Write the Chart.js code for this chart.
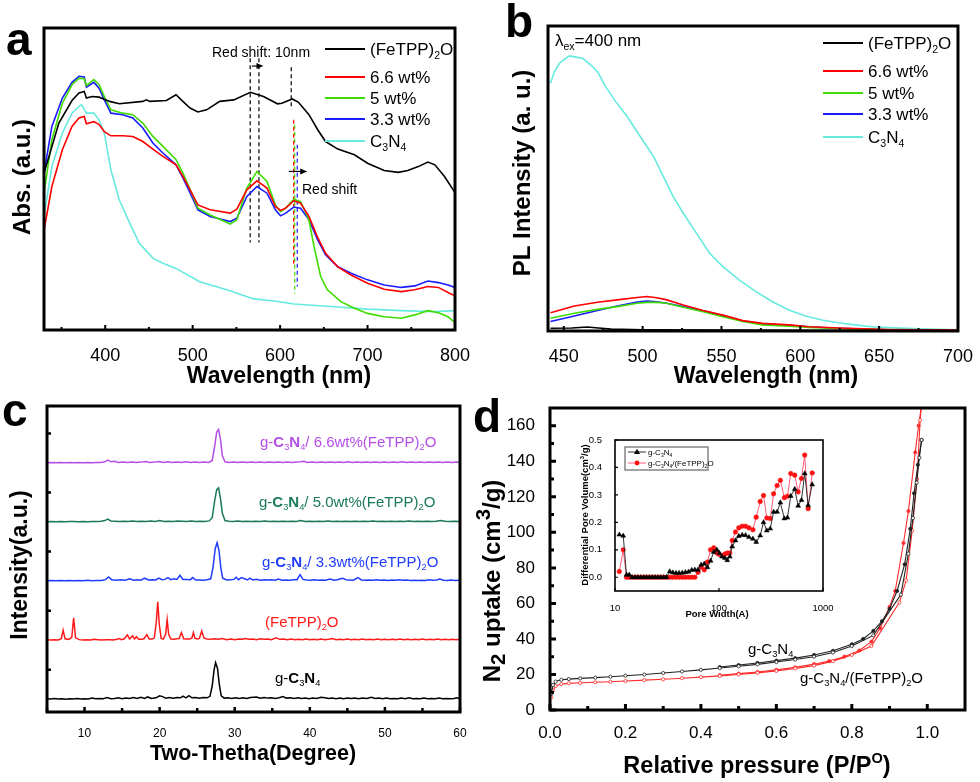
<!DOCTYPE html>
<html>
<head>
<meta charset="utf-8">
<title>Fig. abcd</title>
<script src="https://cdn.jsdelivr.net/npm/chart.js"></script>
<style>
  body { margin: 0; background: #fff; }
  #wrap { position: relative; width: 980px; height: 782px; }
  #wrap canvas { position: absolute; left: 0; top: 0; }
</style>
</head>
<body>
<div id="wrap">
  <canvas id="chA" width="980" height="782"></canvas>
  <canvas id="chB" width="980" height="782"></canvas>
  <canvas id="chC" width="980" height="782"></canvas>
  <canvas id="chD" width="980" height="782"></canvas>
  <canvas id="chIn" width="980" height="782"></canvas>
</div>
<script>
const FONT = '"Liberation Sans", Arial, sans-serif';
Chart.defaults.font.family = FONT;
Chart.defaults.color = '#000';

// ---- panel a: UV-vis absorbance (arbitrary units, frame = 0..100)
const absNames = ['(FeTPP)_2O', '6.6 wt%', '5 wt%', '3.3 wt%', 'C_3N_4'];
const absColors = ['#000000', '#ff0000', '#3fdc00', '#1a1aff', '#66eadf'];
const absFeTPP = [[330,51.9],[347,68.5],[362,76],[370,78.5],[376,79],[378.5,76.8],[385,77.3],[393,77.1],[405,75.7],[416,74.9],[443,75.7],[447,76.2],[451,75.7],[470,76],[481,77.9],[487,76.2],[497,73.5],[506,72.2],[516,72.9],[531,75.7],[547,76.2],[566,78.7],[581,77.3],[597,74.9],[602,75.1],[614,76.5],[621,75.4],[633,71.3],[643,66.3],[652,62.4],[666,59.9],[685,58],[700,55.2],[719,52.8],[735,52.2],[746,52.8],[758,54.1],[769,55.6],[777,54.7],[788,50.8],[800,45.5]];
const abs66 = [[330,33],[339,47.5],[351,59.7],[362,67.4],[370,70.2],[376,70.7],[378.5,68.3],[387,69],[393,68],[399,65.7],[406.5,64.3],[420,64.3],[431.5,64.1],[443,62.4],[454.5,59.9],[466,57.5],[481,54.7],[489,50.8],[499,45.3],[506,41.4],[520,39.8],[543,38.7],[550.5,40],[562,46.4],[573.5,49.4],[585,47],[594.6,40.9],[600.4,39.6],[606,40.3],[615.7,42.8],[623.4,42],[633,37.6],[642.6,30.9],[652,25.4],[665.6,21],[681,18.2],[700,15.5],[719,13.5],[738.6,12.7],[754,13.3],[769,14.4],[781,14.1],[792,12.4],[800,11.3]];
const abs50 = [[330,45.3],[339,63],[351,75.1],[362,81.2],[370,83.4],[376,83.2],[378.5,80.9],[387,82.9],[393,81.2],[399,77.3],[406.5,72.9],[420,71.8],[431.5,71.3],[443,68.5],[454.5,64.1],[466,60.8],[481,56.4],[489,51.9],[499,45.3],[506,40.3],[520,38.1],[543,35.1],[550.5,36.5],[562,47],[573.5,52.5],[585,49.2],[594.6,41.4],[600.4,39.2],[606,40.3],[615.7,43.3],[623.4,42.5],[633,36.5],[638.8,27.6],[646.4,17.7],[654,13.3],[669.5,9.4],[685,7.2],[700,5.5],[719,4.4],[738.6,3.9],[754,5],[769,6.4],[781,5.7],[792,4.4],[800,2.4]];
const abs33 = [[330,51.9],[339,67.4],[351,76.8],[362,82],[370,84],[376,83.8],[378.5,80.4],[387,82],[393,80.1],[399,76.2],[406.5,71.8],[420,71.3],[431.5,70.2],[443,66.9],[454.5,61.9],[466,58.6],[481,54.7],[489,50.3],[499,44.2],[506,39.8],[520,37.6],[543,35.9],[550.5,37],[562,44.2],[573.5,47.5],[585,45.3],[594.6,39.8],[600.4,37.8],[606,38.6],[615.7,40.7],[623.4,40.3],[633,36.5],[642.6,30.1],[652,24.9],[665.6,21],[681,18.8],[700,16.6],[719,14.9],[738.6,14.1],[754,14.6],[769,16.2],[781,15.7],[792,14.9],[800,14.1]];
const absC3N4 = [[330,37.6],[339,54.1],[351,65.2],[362,71.8],[370,74],[373,74.6],[378.5,71.8],[387,71.8],[393,69.6],[399,65.2],[406.5,53],[416,43.1],[428,35.4],[439,28.7],[454.5,23.8],[466,22.1],[481,20.4],[508,16],[539,13.3],[570,10.3],[593,9.6],[616,8.6],[662,7.7],[700,6.9],[739,6.4],[777,6.1],[800,6.4]];
const absSeries = [absFeTPP, abs66, abs50, abs33, absC3N4];
// dashed guide lines: [wavelength, from, to], colours
const absMarks = [[565.8,90,29],[575.8,90,29],[612.7,87,73],[615.5,69.6,21],[616.7,68,12],[619.6,61.3,14.4]];
const absMarkColors = ['#000','#000','#000','#ff0000','#3fdc00','#1a1aff'];
const absArrows = [[567.8,581,87.4],[610,631,52.5]];
const absTicks = [400,500,600,700,800];
const absMinor = [350,450,550,650,750];

// ---- panel b: PL spectra
const plNames = absNames;
const plColors = absColors;
const plFeTPP = [[441.6,0.9],[455,1.0],[465,1.3],[472,1.0],[480,0.6],[500,0.4],[550,0.3],[600,0.2],[700,0.1]];
const pl66 = [[441.6,6],[456.7,8.2],[471.4,9.4],[483.9,10.2],[496.5,11],[502.8,11.3],[509,10.9],[515.3,10.2],[525.8,8.5],[538.4,6.7],[550.9,5.2],[563.5,3.4],[576,2.5],[592.8,2],[605.4,1.4],[624.2,1],[655.6,0.5],[700,0.3]];
const pl50 = [[441.6,4.2],[456.7,5.8],[471.4,7.1],[483.9,8],[496.5,9.1],[502.8,9.4],[509,9.4],[515.3,9.1],[525.8,7.8],[538.4,6.3],[550.9,4.7],[563.5,3.1],[576,2],[592.8,1.6],[605.4,1.2],[624.2,0.8],[655.6,0.4],[700,0.2]];
const pl33 = [[441.6,3.1],[456.7,4.9],[471.4,6.7],[483.9,8.2],[496.5,9.5],[502.8,9.8],[509,9.6],[515.3,9.1],[525.8,8],[538.4,6.6],[550.9,5],[563.5,3.3],[576,2.3],[592.8,1.9],[605.4,1.4],[624.2,0.9],[655.6,0.4],[700,0.2]];
const plC3N4 = [[441.6,81.2],[444,85],[447.3,87.8],[450.4,89.1],[453.6,90.2],[457.7,89.8],[461.9,89.4],[467.2,87.2],[471.4,85],[476.6,80.1],[482.9,75.2],[490.2,70.3],[498.6,63.7],[507,57.2],[513.2,50.6],[519.5,44],[525.8,38.6],[534.2,32],[542.5,25.5],[550.9,21.1],[561.4,16.7],[571.9,12.9],[582.3,9.6],[592.8,6.9],[603.3,4.9],[613.7,3.6],[624.2,2.7],[634.7,2],[645.1,1.4],[655.6,1.1],[676.5,0.7],[700,0.4]];
const plSeries = [plFeTPP, pl66, pl50, pl33, plC3N4];
const plTicks = [450,500,550,600,650,700];
const plMinor = [475,525,575,625,675];

// ---- panel c: XRD patterns (stacked)
const xrdNames = ['g-*C*_3*N*_4', '(FeTPP)_2O', 'g-*C*_3*N*_4/ 3.3wt%(FeTPP)_2O', 'g-*C*_3*N*_4/ 5.0wt%(FeTPP)_2O', 'g-*C*_3*N*_4/ 6.6wt%(FeTPP)_2O'];
const xrdColors = ['#000000', '#ff1a1a', '#1f3cff', '#1b7a55', '#b44ee6'];
const xrdOffsets = [0, 2, 4, 6, 8];
const xrdC3N4 = [[5,0.02],[5.5,0.01],[6,0.03],[6.5,0.01],[7,0.02],[7.5,0.0],[8,0.02],[8.5,0.01],[9,0.03],[9.5,0.01],[10,0.02],[10.5,0.01],[11,0.04],[11.5,0.02],[12,0.03],[12.5,0.02],[13,0.06],[13.5,0.02],[14,0.03],[14.5,0.05],[15,0.02],[15.5,0.04],[16,0.03],[16.5,0.06],[17,0.03],[17.5,0.07],[18,0.03],[18.4,0.08],[18.9,0.03],[19.5,0.05],[20,0.12],[20.4,0.09],[20.8,0.04],[21.3,0.06],[21.8,0.04],[22.3,0.06],[22.8,0.05],[23.1,0.11],[23.5,0.05],[23.9,0.12],[24.3,0.05],[24.8,0.06],[25.3,0.04],[25.8,0.06],[26.3,0.05],[26.7,0.1],[27.0,0.45],[27.25,1.0],[27.45,1.24],[27.7,1.05],[27.95,0.5],[28.2,0.12],[28.6,0.04],[29.1,0.05],[29.6,0.03],[30.1,0.05],[30.6,0.03],[31.1,0.05],[31.6,0.03],[32.1,0.06],[32.9,0.08],[33.4,0.04],[33.9,0.06],[34.4,0.04],[34.9,0.05],[35.4,0.03],[35.9,0.05],[36.4,0.09],[36.9,0.04],[37.4,0.05],[37.9,0.03],[38.4,0.05],[38.9,0.03],[39.4,0.04],[39.9,0.02],[40.4,0.04],[40.9,0.03],[41.5,0.07],[42,0.05],[42.5,0.03],[43,0.04],[43.5,0.02],[44,0.04],[44.5,0.02],[45,0.04],[45.5,0.03],[46,0.04],[46.5,0.02],[47,0.04],[47.6,0.03],[48.2,0.07],[48.7,0.03],[49.2,0.04],[49.7,0.02],[50.2,0.04],[50.7,0.02],[51.2,0.03],[51.7,0.02],[52.2,0.04],[52.7,0.02],[53.2,0.05],[53.7,0.02],[54.2,0.03],[54.7,0.02],[55.2,0.04],[55.7,0.02],[56.2,0.03],[56.7,0.02],[57.2,0.04],[57.7,0.02],[58.2,0.03],[58.7,0.02],[59.2,0.03],[59.6,0.05],[60,0.02]];
const xrdFeTPP = [[5,0.02],[5.5,0.01],[6,0.02],[6.5,0.01],[6.9,0.05],[7.15,0.34],[7.4,0.05],[7.9,0.03],[8.3,0.1],[8.55,0.76],[8.8,0.08],[9.3,0.02],[9.8,0.01],[10.3,0.02],[10.8,0.01],[11.3,0.03],[11.8,0.02],[12.3,0.01],[12.8,0.02],[13.3,0.02],[13.8,0.01],[14.3,0.03],[14.6,0.06],[14.9,0.02],[15.3,0.05],[15.7,0.18],[16.0,0.04],[16.4,0.15],[16.65,0.04],[16.9,0.12],[17.2,0.03],[17.6,0.03],[17.9,0.05],[18.3,0.19],[18.6,0.04],[19.0,0.04],[19.3,0.08],[19.55,0.6],[19.75,1.3],[19.95,0.55],[20.2,0.06],[20.5,0.04],[20.8,0.2],[21.0,0.7],[21.2,0.2],[21.5,0.04],[21.9,0.03],[22.3,0.05],[22.6,0.06],[22.9,0.26],[23.2,0.05],[23.6,0.04],[24.0,0.04],[24.3,0.08],[24.5,0.26],[24.7,0.07],[25.0,0.04],[25.3,0.06],[25.6,0.31],[25.9,0.08],[26.3,0.04],[26.8,0.03],[27.3,0.05],[27.8,0.03],[28.4,0.06],[28.9,0.02],[29.5,0.04],[30,0.02],[30.5,0.04],[31,0.03],[31.4,0.06],[31.9,0.03],[32.4,0.04],[32.9,0.02],[33.4,0.05],[33.9,0.03],[34.4,0.04],[34.9,0.02],[35.5,0.08],[36,0.03],[36.5,0.04],[37,0.02],[37.5,0.04],[38,0.02],[38.5,0.03],[39,0.02],[39.5,0.04],[40,0.02],[40.5,0.03],[41,0.02],[41.5,0.04],[42,0.02],[42.5,0.03],[43,0.06],[43.5,0.02],[44,0.03],[44.5,0.02],[45,0.04],[45.5,0.02],[46,0.03],[46.5,0.02],[47,0.04],[47.5,0.02],[48,0.03],[48.5,0.02],[49,0.04],[49.5,0.02],[50,0.03],[50.5,0.02],[51,0.03],[51.5,0.02],[52,0.04],[52.5,0.02],[53,0.03],[53.5,0.02],[54,0.03],[54.5,0.02],[55,0.04],[55.5,0.02],[56,0.03],[56.5,0.02],[57,0.04],[57.5,0.02],[58,0.03],[58.5,0.02],[59,0.03],[59.5,0.02],[60,0.03]];
const xrd33 = [[5,0.01],[5.6,0.02],[6.2,0.01],[6.8,0.02],[7.4,0.01],[8,0.02],[8.6,0.01],[9.2,0.02],[9.8,0.01],[10.4,0.03],[11,0.01],[11.6,0.02],[12.2,0.02],[12.8,0.05],[13.2,0.14],[13.6,0.05],[14.2,0.03],[14.8,0.05],[15.4,0.03],[16.0,0.08],[16.5,0.03],[17.0,0.05],[17.5,0.03],[18.0,0.1],[18.5,0.04],[19.0,0.05],[19.5,0.04],[19.9,0.1],[20.3,0.05],[20.7,0.06],[21.1,0.12],[21.5,0.05],[21.9,0.08],[22.3,0.06],[22.7,0.2],[23.1,0.06],[23.6,0.06],[24.1,0.05],[24.4,0.12],[24.8,0.04],[25.3,0.04],[25.8,0.03],[26.3,0.05],[26.8,0.08],[27.1,0.45],[27.4,1.1],[27.65,1.3],[27.9,1.05],[28.15,0.45],[28.4,0.1],[28.9,0.04],[29.4,0.05],[29.9,0.06],[30.2,0.13],[30.5,0.05],[30.9,0.12],[31.3,0.08],[31.7,0.04],[32.0,0.1],[32.4,0.04],[32.9,0.06],[33.4,0.03],[33.9,0.05],[34.4,0.04],[34.9,0.05],[35.4,0.03],[35.8,0.07],[36.3,0.03],[36.8,0.04],[37.3,0.03],[37.8,0.05],[38.3,0.05],[38.7,0.22],[39.1,0.06],[39.6,0.04],[40.1,0.03],[40.6,0.05],[41.1,0.03],[41.6,0.04],[42.1,0.03],[42.7,0.07],[43.2,0.03],[43.7,0.05],[44.1,0.08],[44.4,0.1],[44.8,0.05],[45.3,0.04],[45.8,0.03],[46.4,0.12],[46.9,0.04],[47.4,0.03],[47.9,0.04],[48.4,0.03],[48.9,0.05],[49.4,0.03],[49.9,0.04],[50.4,0.02],[50.9,0.04],[51.4,0.03],[51.9,0.05],[52.4,0.03],[52.9,0.04],[53.4,0.02],[53.9,0.03],[54.4,0.02],[54.9,0.03],[55.4,0.02],[55.9,0.05],[56.4,0.03],[56.9,0.04],[57.3,0.07],[57.8,0.03],[58.3,0.02],[58.8,0.04],[59.3,0.02],[60,0.03]];
const xrd50 = [[5,0.01],[5.6,0.02],[6.2,0.01],[6.8,0.02],[7.4,0.01],[8,0.02],[8.6,0.02],[9.2,0.01],[9.8,0.02],[10.4,0.01],[11,0.02],[11.6,0.02],[12.2,0.03],[12.7,0.05],[13.1,0.1],[13.5,0.04],[14,0.03],[14.6,0.02],[15.2,0.03],[15.8,0.02],[16.4,0.04],[17,0.02],[17.6,0.03],[18.2,0.02],[18.8,0.04],[19.4,0.02],[20,0.05],[20.6,0.02],[21.2,0.03],[21.8,0.02],[22.4,0.04],[23,0.03],[23.6,0.02],[24.2,0.04],[24.8,0.02],[25.4,0.03],[26,0.02],[26.6,0.04],[27.0,0.15],[27.35,0.75],[27.6,1.1],[27.85,1.16],[28.1,0.8],[28.35,0.3],[28.7,0.05],[29.2,0.03],[29.8,0.02],[30.4,0.04],[31,0.02],[31.6,0.03],[32.2,0.02],[32.8,0.03],[33.4,0.02],[34,0.04],[34.6,0.02],[35.2,0.03],[35.8,0.02],[36.4,0.03],[37,0.02],[37.6,0.03],[38.2,0.02],[38.8,0.05],[39.4,0.02],[40,0.03],[40.6,0.02],[41.2,0.03],[41.8,0.02],[42.4,0.04],[43,0.02],[43.6,0.03],[44.2,0.02],[44.8,0.03],[45.4,0.02],[46,0.03],[46.6,0.02],[47.2,0.03],[47.8,0.02],[48.4,0.04],[49,0.02],[49.6,0.03],[50.2,0.02],[50.8,0.03],[51.4,0.02],[52,0.03],[52.6,0.02],[53.2,0.04],[53.8,0.02],[54.4,0.03],[55,0.02],[55.6,0.03],[56.2,0.02],[56.8,0.03],[57.4,0.05],[58,0.03],[58.6,0.02],[59.2,0.03],[60,0.02]];
const xrd66 = [[5,0.01],[5.6,0.02],[6.2,0.01],[6.8,0.02],[7.4,0.01],[8,0.02],[8.6,0.01],[9.2,0.02],[9.8,0.01],[10.4,0.02],[11,0.01],[11.6,0.02],[12.2,0.02],[12.7,0.04],[13.1,0.1],[13.5,0.04],[14.0,0.06],[14.5,0.02],[15.1,0.03],[15.7,0.02],[16.3,0.03],[16.9,0.02],[17.5,0.03],[18.1,0.05],[18.7,0.02],[19.3,0.03],[19.9,0.05],[20.5,0.02],[21.1,0.04],[21.7,0.02],[22.3,0.03],[22.9,0.02],[23.5,0.04],[24.1,0.02],[24.7,0.03],[25.3,0.02],[25.9,0.03],[26.5,0.02],[27.0,0.08],[27.35,0.6],[27.6,1.05],[27.85,1.14],[28.1,0.8],[28.35,0.25],[28.7,0.04],[29.2,0.02],[29.8,0.03],[30.4,0.02],[31,0.03],[31.6,0.02],[32.2,0.03],[32.8,0.02],[33.4,0.03],[34,0.02],[34.6,0.03],[35.2,0.02],[35.8,0.03],[36.4,0.02],[37,0.03],[37.6,0.02],[38.2,0.03],[38.8,0.04],[39.2,0.06],[39.7,0.02],[40.3,0.03],[40.9,0.02],[41.5,0.03],[42.1,0.02],[42.7,0.03],[43.3,0.02],[43.9,0.03],[44.5,0.02],[45.1,0.04],[45.7,0.02],[46.3,0.03],[46.9,0.02],[47.5,0.03],[48.1,0.02],[48.7,0.03],[49.3,0.02],[49.9,0.03],[50.5,0.02],[51.1,0.03],[51.7,0.02],[52.3,0.04],[52.9,0.02],[53.5,0.03],[54.1,0.02],[54.7,0.03],[55.3,0.02],[55.9,0.03],[56.5,0.02],[57.1,0.03],[57.7,0.02],[58.3,0.03],[58.9,0.02],[59.5,0.03],[60,0.02]];
const xrdSeries = [xrdC3N4, xrdFeTPP, xrd33, xrd50, xrd66];
const xrdTicks = [10,20,30,40,50,60];
const xrdMinor = [5,15,25,35,45,55];
const xrdYTicks = [1,3,5,7,9];

// ---- panel d: N2 isotherms (adsorption / desorption)
const isoC3N4Ads = [[0.003,9],[0.008,14],[0.015,16],[0.03,17],[0.05,17.4],[0.08,17.8],[0.12,18.2],[0.16,18.7],[0.2,19.3],[0.25,20],[0.3,20.8],[0.35,21.7],[0.4,22.6],[0.45,23.6],[0.5,24.6],[0.55,25.7],[0.6,27],[0.65,28.4],[0.7,30],[0.75,32.4],[0.8,36],[0.857,42],[0.93,65],[0.95,88],[0.962,108],[0.972,128],[0.979,142],[0.985,152]];
const isoC3N4Des = [[0.985,152],[0.975,138],[0.965,122],[0.955,102],[0.94,82],[0.92,67],[0.9,57],[0.88,50],[0.857,44.5],[0.83,40],[0.8,37],[0.75,33.3],[0.7,31],[0.65,29.2],[0.6,27.8],[0.55,26.5],[0.5,25.3],[0.45,24.2]];
const isoFeAds = [[0.003,7],[0.008,11],[0.015,13.5],[0.03,14.6],[0.05,15],[0.08,15.3],[0.12,15.6],[0.16,15.9],[0.2,16.3],[0.25,16.8],[0.3,17.3],[0.35,17.9],[0.4,18.5],[0.45,19.2],[0.5,20],[0.55,20.9],[0.6,22],[0.65,23.4],[0.7,25],[0.75,27.5],[0.8,31],[0.852,36],[0.926,60.5],[0.944,73],[0.96,101],[0.973,130],[0.981,163],[0.985,172]];
const isoFeDes = [[0.985,172],[0.977,160],[0.968,145],[0.95,112],[0.937,94],[0.915,67],[0.9,58],[0.875,46],[0.852,38.5],[0.82,33.5],[0.78,30],[0.74,27.5],[0.7,25.8],[0.65,24],[0.6,22.6],[0.55,21.4],[0.5,20.5],[0.45,19.6]];
const isoXTicks = [0,0.2,0.4,0.6,0.8,1.0];
const isoXMinor = [0.1,0.3,0.5,0.7,0.9];
const isoYTicks = [0,20,40,60,80,100,120,140,160];
const isoYMinor = [10,30,50,70,90,110,130,150];

// ---- inset: pore size distribution
const poreWidth = [11.0,12.0,12.9,13.7,14.6,15.6,16.6,17.7,18.9,20.1,21.4,22.8,24.3,25.9,27.6,29.4,31.3,33.6,36.0,38.6,41.4,44.4,47.6,51.0,54.7,58.6,62.8,67.3,72.2,77.4,83.0,89.0,95.4,101,107,114,120,127,134,144,155,167,180,194,212,228,249,268,288,311,335,362,389,425,455,490,535,577,621,667,720,787];
const poreC3N4 = [0.155,0.151,0.009,0.009,0,0,0,0,0,0,0,0,0,0,0,0,0,0.021,0.017,0.015,0.015,0.016,0.018,0.02,0.026,0.027,0.027,0.045,0.049,0.036,0.06,0.092,0.1,0.088,0.075,0.07,0.062,0.075,0.112,0.134,0.15,0.154,0.153,0.146,0.14,0.128,0.152,0.2,0.17,0.177,0.238,0.238,0.272,0.214,0.217,0.296,0.321,0.26,0.281,0.378,0.262,0.338];
const poreFe = [0.021,0.1,0,0,0,0,0,0,0,0,0,0,0,0,0,0,0,0,0,0,0,0,0,0,0,0,0.018,0.037,0.027,0.055,0.1,0.107,0.088,0.083,0.079,0.085,0.088,0.088,0.134,0.165,0.18,0.186,0.186,0.18,0.173,0.219,0.276,0.298,0.216,0.214,0.304,0.334,0.353,0.29,0.295,0.378,0.372,0.311,0.36,0.445,0.25,0.38];
const poreYTicks = [0,0.1,0.2,0.3,0.4,0.5];
const poreXTicks = [10,100,1000];

// ---------- helpers
const toXY = arr => arr.map(p => ({ x: p[0], y: p[1] }));

function parseRich(s) {
  const out = []; let bold = false, i = 0;
  while (i < s.length) {
    const c = s[i];
    if (c === '*') { bold = !bold; i++; continue; }
    if (c === '_' || c === '^') {
      let t;
      if (s[i + 1] === '{') { const j = s.indexOf('}', i); t = s.slice(i + 2, j); i = j + 1; }
      else { t = s[i + 1]; i += 2; }
      out.push({ t, k: c === '_' ? 'sub' : 'sup', bold });
      continue;
    }
    let j = i;
    while (j < s.length && '*_^'.indexOf(s[j]) < 0) j++;
    out.push({ t: s.slice(i, j), k: '', bold });
    i = j;
  }
  return out;
}

function drawRich(ctx, s, x, y, o) {
  const size = o.size, parts = parseRich(s);
  const subScale = o.subScale || 0.62;
  const font = p => ((p.bold || o.bold) ? 'bold ' : '') + (p.k ? size * subScale : size) + 'px ' + FONT;
  ctx.save();
  ctx.translate(x, y);
  if (o.rot) ctx.rotate(o.rot);
  ctx.fillStyle = o.color || '#000';
  ctx.textBaseline = 'alphabetic';
  ctx.textAlign = 'left';
  let w = 0;
  parts.forEach(p => { ctx.font = font(p); p.w = ctx.measureText(p.t).width; w += p.w; });
  let cx = o.align === 'center' ? -w / 2 : (o.align === 'right' ? -w : 0);
  parts.forEach(p => {
    ctx.font = font(p);
    ctx.fillText(p.t, cx, p.k === 'sub' ? size * 0.22 : (p.k === 'sup' ? -size * 0.42 : 0));
    cx += p.w;
  });
  ctx.restore();
}

function frame(chart, w) {
  const { ctx, chartArea: a } = chart;
  ctx.save();
  ctx.strokeStyle = '#000';
  ctx.lineWidth = w || 3;
  ctx.strokeRect(a.left, a.top, a.right - a.left, a.bottom - a.top);
  ctx.restore();
}

function tickMarks(chart, axis, vals, len, w) {
  const s = chart.scales[axis], a = chart.chartArea, ctx = chart.ctx;
  ctx.save();
  ctx.strokeStyle = '#000';
  ctx.lineWidth = w;
  ctx.beginPath();
  vals.forEach(v => {
    const p = s.getPixelForValue(v);
    if (axis === 'x') { ctx.moveTo(p, a.bottom); ctx.lineTo(p, a.bottom - len); }
    else { ctx.moveTo(a.left, p); ctx.lineTo(a.left + len, p); }
  });
  ctx.stroke();
  ctx.restore();
}

// legend rows, clipped to the plot frame like the original
function legendRows(chart, names, colors, x0, x1, rows, size) {
  const { ctx, chartArea: a } = chart;
  ctx.save();
  ctx.beginPath();
  ctx.rect(a.left, a.top, a.right - a.left, a.bottom - a.top);
  ctx.clip();
  names.forEach((n, i) => {
    ctx.save();
    ctx.strokeStyle = colors[i];
    ctx.lineWidth = 2;
    ctx.beginPath(); ctx.moveTo(x0, rows[i]); ctx.lineTo(x1, rows[i]); ctx.stroke();
    ctx.restore();
    drawRich(ctx, n, x1 + 5, rows[i] + size * 0.36, { size });
  });
  ctx.restore();
}

function arrow(ctx, x0, x1, y) {
  ctx.save();
  ctx.strokeStyle = '#000'; ctx.fillStyle = '#000'; ctx.lineWidth = 1.2;
  ctx.beginPath(); ctx.moveTo(x0, y); ctx.lineTo(x1 - 5, y); ctx.stroke();
  ctx.beginPath(); ctx.moveTo(x1, y); ctx.lineTo(x1 - 7, y - 3); ctx.lineTo(x1 - 7, y + 3); ctx.closePath(); ctx.fill();
  ctx.restore();
}

function fixedTicks(list) {
  return s => { s.ticks = list.map(v => ({ value: v })); };
}

function makeChart(id, datasets, pad, scales, decor) {
  return new Chart(document.getElementById(id), {
    type: 'line',
    data: { datasets },
    options: {
      responsive: false,
      animation: false,
      events: [],
      layout: { padding: pad },
      plugins: { legend: { display: false }, tooltip: { enabled: false } },
      elements: { point: { radius: 0 }, line: { tension: 0 } },
      scales
    },
    plugins: [{ id: 'decor', afterDraw: decor }]
  });
}

function xAxis(min, max, ticks, size, pad, height, fmt) {
  return {
    type: 'linear', min, max,
    afterBuildTicks: fixedTicks(ticks),
    afterFit: s => { s.height = height; },
    grid: { display: false },
    border: { display: false },
    ticks: { font: { size }, padding: pad, maxRotation: 0, autoSkip: false, callback: fmt || (v => String(v)) }
  };
}

// ---------- panel a
makeChart('chA',
  absSeries.map((d, i) => ({ data: toXY(d), borderColor: absColors[i], borderWidth: 1.6 }))
    .concat(absMarks.map((m, i) => ({
      data: [{ x: m[0], y: m[1] }, { x: m[0], y: m[2] }],
      borderColor: absMarkColors[i], borderWidth: 1.2, borderDash: [4, 3]
    }))),
  { left: 44, top: 28, right: 525, bottom: 392 },
  { x: xAxis(330, 800, absTicks, 18, 7, 60), y: { display: false, min: 0, max: 100 } },
  chart => {
    const { ctx, scales: { x, y } } = chart;
    tickMarks(chart, 'x', absTicks, 5, 2);
    tickMarks(chart, 'x', absMinor, 3, 2);
    legendRows(chart, absNames, absColors, 325, 365, [49, 77, 98, 119, 141], 17);
    frame(chart, 3);
    absArrows.forEach(r => arrow(ctx, x.getPixelForValue(r[0]), x.getPixelForValue(r[1]), y.getPixelForValue(r[2])));
    drawRich(ctx, 'Red shift: 10nm', 212, 57, { size: 14 });
    drawRich(ctx, 'Red shift', 302, 194, { size: 14 });
    drawRich(ctx, 'Wavelength (nm)', 279, 383, { size: 23, bold: true, align: 'center' });
    drawRich(ctx, 'Abs. (a.u.)', 30, 177, { size: 24, bold: true, align: 'center', rot: -Math.PI / 2 });
    drawRich(ctx, 'a', 6, 55, { size: 46, bold: true });
  });

// ---------- panel b
makeChart('chB',
  plSeries.map((d, i) => ({ data: toXY(d), borderColor: plColors[i], borderWidth: 1.6 })),
  { left: 548, top: 26, right: 17, bottom: 391 },
  { x: xAxis(440, 700, plTicks, 18, 7, 60), y: { display: false, min: 0, max: 100 } },
  chart => {
    const ctx = chart.ctx;
    tickMarks(chart, 'x', plTicks, 5, 2);
    tickMarks(chart, 'x', plMinor, 3, 2);
    legendRows(chart, plNames, plColors, 823, 863, [43, 71, 93, 114, 137], 17);
    frame(chart, 3);
    drawRich(ctx, 'λ_{ex}=400 nm', 555, 46, { size: 17 });
    drawRich(ctx, 'Wavelength (nm)', 766, 383, { size: 23, bold: true, align: 'center' });
    drawRich(ctx, 'PL Intensity (a. u.)', 530, 173, { size: 24, bold: true, align: 'center', rot: -Math.PI / 2 });
    drawRich(ctx, 'b', 505, 37, { size: 46, bold: true });
  });

// ---------- panel c
const xrdLabelPos = [[275, 683], [265, 627], [262, 567], [259, 507], [260, 447]];
makeChart('chC',
  xrdSeries.map((d, i) => ({
    data: d.map(p => ({ x: p[0], y: p[1] + xrdOffsets[i] })),
    borderColor: xrdColors[i], borderWidth: 1.5
  })),
  { left: 47, top: 406, right: 520, bottom: 30 },
  { x: xAxis(5, 60, xrdTicks, 12, 6, 40), y: { display: false, min: -0.43, max: 9.93 } },
  chart => {
    const ctx = chart.ctx;
    tickMarks(chart, 'x', xrdTicks, 5, 2.5);
    tickMarks(chart, 'x', xrdMinor, 4, 2.5);
    tickMarks(chart, 'y', xrdYTicks, 4, 2.5);
    frame(chart, 3);
    xrdNames.forEach((n, i) => drawRich(ctx, n, xrdLabelPos[i][0], xrdLabelPos[i][1], { size: 15, color: xrdColors[i] }));
    drawRich(ctx, 'Two-Thetha(Degree)', 253, 760, { size: 21.5, bold: true, align: 'center' });
    drawRich(ctx, 'Intensity(a.u.)', 27, 565, { size: 23, bold: true, align: 'center', rot: -Math.PI / 2 });
    drawRich(ctx, 'c', 2, 426, { size: 46, bold: true });
  });

// ---------- panel d
const isoStyle = (d, color, open) => ({
  data: toXY(d), borderColor: color, borderWidth: 1.1,
  pointRadius: 1.6, pointBorderWidth: 0.8, pointBorderColor: color,
  pointBackgroundColor: open ? '#fff' : color
});
makeChart('chD',
  [isoStyle(isoC3N4Ads, '#222', true), isoStyle(isoC3N4Des, '#222', false),
   isoStyle(isoFeAds, '#ff2a2a', true), isoStyle(isoFeDes, '#ff2a2a', false)],
  { left: 490, top: 408, right: 15, bottom: 32 },
  {
    x: xAxis(0, 1.1, isoXTicks, 17, 5, 40, v => v.toFixed(1)),
    y: {
      type: 'linear', min: 0, max: 170,
      afterBuildTicks: fixedTicks(isoYTicks),
      afterFit: s => { s.width = 60; },
      grid: { display: false }, border: { display: false },
      ticks: { font: { size: 17 }, padding: 7 }
    }
  },
  chart => {
    const ctx = chart.ctx;
    tickMarks(chart, 'x', isoXTicks, 6, 3);
    tickMarks(chart, 'x', isoXMinor, 4, 3);
    tickMarks(chart, 'y', isoYTicks, 6, 3);
    tickMarks(chart, 'y', isoYMinor, 4, 3);
    frame(chart, 3);
    drawRich(ctx, 'g-C_3N_4', 748, 654, { size: 15 });
    drawRich(ctx, 'g-C_3N_4/(FeTPP)_2O', 800, 683, { size: 15 });
    drawRich(ctx, 'Relative pressure (P/P^O)', 757, 773, { size: 23.5, bold: true, align: 'center' });
    drawRich(ctx, 'N_2 uptake (cm^3/g)', 500, 581, { size: 24, bold: true, align: 'center', rot: -Math.PI / 2, subScale: 0.85 });
    drawRich(ctx, 'd', 473, 432, { size: 46, bold: true });
  });

// ---------- inset
function marker(ctx, kind, x, y, color) {
  ctx.save();
  ctx.fillStyle = color;
  ctx.beginPath();
  if (kind === 'triangle') { ctx.moveTo(x, y - 3.2); ctx.lineTo(x + 3, y + 2); ctx.lineTo(x - 3, y + 2); ctx.closePath(); }
  else ctx.arc(x, y, 2.4, 0, Math.PI * 2);
  ctx.fill();
  ctx.restore();
}
makeChart('chIn',
  [
    { data: poreWidth.map((w, i) => ({ x: w, y: poreC3N4[i] })), borderColor: '#333', borderWidth: 1,
      pointStyle: 'triangle', pointRadius: 2.8, pointBackgroundColor: '#000', pointBorderColor: '#000', pointBorderWidth: 0.5 },
    { data: poreWidth.map((w, i) => ({ x: w, y: poreFe[i] })), borderColor: '#ff5a78', borderWidth: 1,
      pointStyle: 'circle', pointRadius: 2.3, pointBackgroundColor: '#ff1010', pointBorderColor: '#ff1010', pointBorderWidth: 0.5 }
  ],
  { left: 585, top: 440, right: 157, bottom: 171 },
  {
    x: {
      type: 'logarithmic', min: 10, max: 1000,
      afterBuildTicks: fixedTicks(poreXTicks),
      afterFit: s => { s.height = 20; },
      grid: { display: false }, border: { display: false },
      ticks: { font: { size: 9.5 }, padding: 4, callback: v => String(v) }
    },
    y: {
      type: 'linear', min: -0.05, max: 0.5,
      afterBuildTicks: fixedTicks(poreYTicks),
      afterFit: s => { s.width = 30; },
      grid: { display: false }, border: { display: false },
      ticks: { font: { size: 9.5 }, padding: 5, callback: v => v.toFixed(1) }
    }
  },
  chart => {
    const ctx = chart.ctx;
    tickMarks(chart, 'y', poreYTicks, 3, 1.2);
    tickMarks(chart, 'x', poreXTicks, 3, 1.2);
    frame(chart, 1.6);
    ctx.save();
    ctx.strokeStyle = '#666'; ctx.lineWidth = 1.2;
    ctx.strokeRect(625, 447, 83, 23);
    ctx.strokeStyle = '#333'; ctx.lineWidth = 1;
    ctx.beginPath(); ctx.moveTo(628, 452); ctx.lineTo(646, 452); ctx.stroke();
    ctx.strokeStyle = '#ff5a78';
    ctx.beginPath(); ctx.moveTo(628, 463); ctx.lineTo(646, 463); ctx.stroke();
    ctx.restore();
    marker(ctx, 'triangle', 637, 452, '#000');
    marker(ctx, 'circle', 637, 463, '#ff1010');
    drawRich(ctx, 'g-C_3N_4', 648, 455, { size: 8 });
    drawRich(ctx, 'g-C_3N_4/(FeTPP)_2O', 648, 466, { size: 8 });
    drawRich(ctx, 'Pore Width(A)', 717, 617, { size: 9.5, bold: true, align: 'center' });
    drawRich(ctx, 'Differential Pore Volume(cm^3/g)', 588, 515, { size: 9.5, bold: true, align: 'center', rot: -Math.PI / 2 });
  });
</script>
</body>
</html>
